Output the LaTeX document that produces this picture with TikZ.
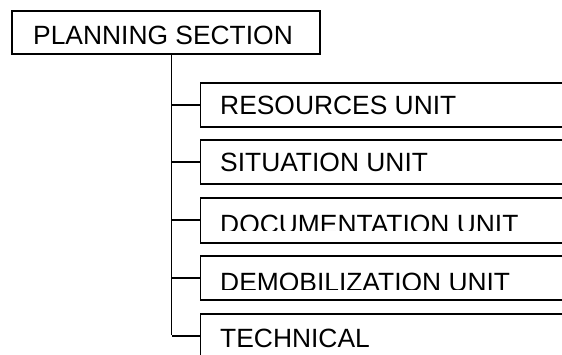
\documentclass[tikz,border=0pt]{standalone}
\usepackage{fontspec}
\setmainfont{Liberation Sans}
\begin{document}
\begin{tikzpicture}[x=1pt,y=-1pt,
  box/.style={draw=black, line width=1.6pt, fill=white, anchor=north west, inner sep=0pt},
  lbl/.style={anchor=base west, inner sep=0pt, font=\fontsize{26.4}{30}\selectfont},
  link/.style={draw=black, line width=1.8pt}]
\useasboundingbox (0,0) rectangle (562,355);
\clip (0,0) rectangle (562,355);
% top box
\node[box, minimum width=308pt, minimum height=43pt] (plan) at (11,10.5) {};
\node[lbl] (plant) at (33,45) {PLANNING SECTION};
% spine
\coordinate (top) at (171.5,53.5);
\coordinate (bot) at (171.5,335);
\draw[link] (top) -- (bot);
% unit boxes
\node[box, minimum width=420pt, minimum height=44pt] (res) at (199.5,82) {};
\node[box, minimum width=420pt, minimum height=44pt] (sit) at (199.5,139) {};
\node[box, minimum width=420pt, minimum height=45pt] (doc) at (199.5,197) {};
\node[box, minimum width=420pt, minimum height=44pt] (dem) at (199.5,255) {};
\node[box, minimum width=420pt, minimum height=44pt] (tec) at (199.5,313) {};
% labels
\node[lbl] (rest) at (220,115) {RESOURCES UNIT};
\node[lbl] (sitt) at (220,172) {SITUATION UNIT};
\begin{scope}
  \clip (199.5,197) rectangle (562,231);
  \node[lbl] (doct) at (220,234) {DOCUMENTATION UNIT};
\end{scope}
\begin{scope}
  \clip (199.5,255) rectangle (562,290);
  \node[lbl] (demt) at (220,291) {DEMOBILIZATION UNIT};
\end{scope}
\node[lbl] (tect) at (220,347) {TECHNICAL};
% ticks
\foreach \n in {res,sit,doc,dem,tec}
  \draw[link] (\n.west -| top) -- (\n.west);
\end{tikzpicture}
\end{document}
